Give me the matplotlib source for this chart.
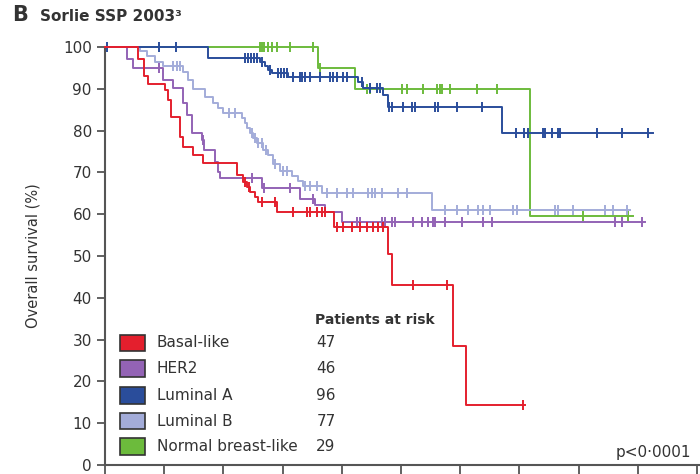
import numpy as np
import matplotlib
matplotlib.use("Agg")
import matplotlib.pyplot as plt
from matplotlib.patches import Rectangle

plt.rcParams['font.family'] = ['DejaVu Sans']

# Kaplan-Meier steps (years, % surviving), end of follow-up and censoring times
basal_t = [0, 0.56, 0.66, 0.73, 1.01, 1.06, 1.11, 1.27, 1.32, 1.49, 1.66, 2.23, 2.33,
           2.40, 2.45, 2.53, 2.58, 2.91, 3.87, 4.78, 4.85, 5.88, 6.10]
basal_s = [100, 97.1, 93.0, 91.1, 89.7, 87.3, 83.3, 78.5, 76.0, 74.2, 72.2, 69.4, 67.7,
           66.5, 65.3, 64.1, 62.9, 60.5, 57.0, 50.5, 43.0, 28.5, 14.4]
basal_end = 7.09
basal_cens = [2.36, 2.43, 2.65, 2.87, 3.18, 3.41, 3.46, 3.58, 3.67, 3.72, 3.92, 4.02,
              4.17, 4.31, 4.43, 4.53, 4.61, 4.70, 5.20, 5.78, 7.06]

her2_t = [0, 0.37, 0.47, 0.98, 1.15, 1.32, 1.39, 1.47, 1.64, 1.67, 1.86, 1.91, 1.94,
          2.65, 3.29, 3.55, 3.72, 4.00]
her2_s = [100, 97.1, 94.9, 92.1, 90.2, 86.6, 83.7, 79.4, 77.8, 75.4, 72.5, 70.1, 68.7,
          66.3, 63.6, 62.2, 60.5, 58.1]
her2_end = 9.12
her2_cens = [0.91, 1.655, 2.48, 2.69, 3.13, 3.51, 4.26, 4.31, 4.68, 4.73, 4.85, 4.90,
             5.20, 5.36, 5.46, 5.54, 5.57, 5.74, 6.03, 6.39, 6.54, 8.62, 8.73, 9.07]

luma_t = [0, 1.74, 2.62, 2.70, 2.75, 2.82, 3.09, 4.27, 4.36, 4.70, 4.78, 6.71]
luma_s = [100, 97.3, 96.5, 95.5, 94.5, 93.8, 92.8, 91.6, 90.2, 88.5, 85.6, 79.4]
luma_end = 9.26
luma_cens = [0.03, 0.91, 1.20, 2.37, 2.42, 2.47, 2.52, 2.57, 2.65, 2.79, 2.92, 2.97,
             3.02, 3.07, 3.18, 3.29, 3.33, 3.38, 3.46, 3.63, 3.80, 3.85, 3.92, 4.02,
             4.09, 4.34, 4.48, 4.60, 4.65, 4.80, 4.85, 5.03, 5.19, 5.24, 5.57, 5.63,
             5.95, 6.37, 6.94, 7.08, 7.15, 7.40, 7.43, 7.55, 7.65, 7.69, 8.31, 8.73, 9.17]

lumb_t = [0, 0.59, 0.71, 0.84, 0.98, 1.32, 1.40, 1.49, 1.69, 1.82, 1.91, 1.99, 2.31,
          2.36, 2.40, 2.45, 2.50, 2.57, 2.67, 2.75, 2.84, 2.96, 3.16, 3.26, 3.34, 3.67,
          5.52]
lumb_s = [100, 99.0, 97.8, 96.4, 95.5, 94.0, 92.1, 90.0, 88.0, 86.6, 85.4, 84.2, 83.0,
          81.8, 80.6, 79.4, 78.2, 77.0, 75.4, 74.2, 72.0, 70.3, 69.1, 67.9, 66.7, 65.1,
          61.0]
lumb_end = 8.87
lumb_cens = [1.15, 1.22, 1.27, 2.09, 2.20, 2.48, 2.53, 2.58, 2.65, 2.72, 2.87, 3.01,
             3.07, 3.38, 3.46, 3.58, 3.75, 3.92, 4.09, 4.19, 4.44, 4.51, 4.56, 4.68,
             4.95, 5.10, 5.74, 5.95, 6.13, 6.30, 6.39, 6.50, 6.89, 6.96, 7.60, 7.65,
             7.91, 8.45, 8.58, 8.82]

normal_t = [0, 3.60, 4.22, 7.18]
normal_s = [100, 95.0, 90.0, 59.6]
normal_end = 8.92
normal_cens = [2.62, 2.65, 2.69, 2.75, 2.82, 2.91, 3.13, 3.51, 3.63, 4.43, 4.48, 5.02,
               5.10, 5.37, 5.61, 5.66, 5.69, 5.83, 6.28, 6.62, 8.07, 8.83]

groups = ["Basal-like", "HER2", "Luminal A", "Luminal B", "Normal breast-like"]
at_risk = [47, 46, 96, 77, 29]
colors = ["#e41f2d", "#9363b5", "#2a4d9b", "#a3acd9", "#6cbb3c"]

curves = [
    (basal_t, basal_s, basal_end, basal_cens),
    (her2_t, her2_s, her2_end, her2_cens),
    (luma_t, luma_s, luma_end, luma_cens),
    (lumb_t, lumb_s, lumb_end, lumb_cens),
    (normal_t, normal_s, normal_end, normal_cens),
]
z_order = [5, 4, 3, 2, 1]

text_col = "#333333"

fig = plt.figure(figsize=(7, 4.74), dpi=100)
ax = fig.add_axes([0.15, 0.019, 0.85, 0.882])

for (t, s, end, cens), col, z in zip(curves, colors, z_order):
    t = np.asarray(t)
    s = np.asarray(s)
    ax.step(np.append(t, end), np.append(s, s[-1]), where="post",
            color=col, lw=1.4, zorder=z, clip_on=False)
    cens = np.asarray(cens)
    idx = np.searchsorted(t, cens, side="right") - 1
    ax.plot(cens, s[idx], ls="none", marker="|", ms=7, mew=1.4,
            color=col, zorder=z, clip_on=False)

ax.set_xlim(0, 10.05)
ax.set_ylim(0, 100)
ax.set_xticks(np.arange(0, 11, 1))
ax.set_yticks(np.arange(0, 101, 10))
ax.tick_params(axis="x", direction="out", length=12, width=1.3, colors="#555555",
               labelbottom=False)
ax.tick_params(axis="y", direction="out", length=6, width=1.3, colors="#555555",
               labelcolor=text_col, labelsize=11)
for side in ("top", "right"):
    ax.spines[side].set_visible(False)
for side in ("left", "bottom"):
    ax.spines[side].set_color("#555555")
    ax.spines[side].set_linewidth(1.5)
ax.set_ylabel("Overall survival (%)", fontsize=10.5, color=text_col, labelpad=16)

# legend with patients at risk
row_y = [29.2, 23.0, 16.7, 10.5, 4.5]
for name, n, col, y in zip(groups, at_risk, colors, row_y):
    ax.add_patch(Rectangle((0.25, y - 2.0), 0.43, 4.0, facecolor=col,
                           edgecolor="#333333", lw=1.2, zorder=6))
    ax.text(0.87, y, name, fontsize=11, color=text_col, va="center", ha="left")
    ax.text(3.57, y, str(n), fontsize=11, color=text_col, va="center", ha="left")
ax.text(3.55, 34.6, "Patients at risk", fontsize=10, fontweight="bold",
        color=text_col, va="center", ha="left")
ax.text(9.9, 3.0, "p<0·0001", fontsize=11, color=text_col, va="center", ha="right")

fig.text(0.017, 0.955, "B", fontsize=15, fontweight="bold", color=text_col,
         va="baseline")
fig.text(0.057, 0.955, "Sorlie SSP 2003³", fontsize=11, fontweight="bold",
         color=text_col, va="baseline")

fig.savefig("out.png", dpi=100)
